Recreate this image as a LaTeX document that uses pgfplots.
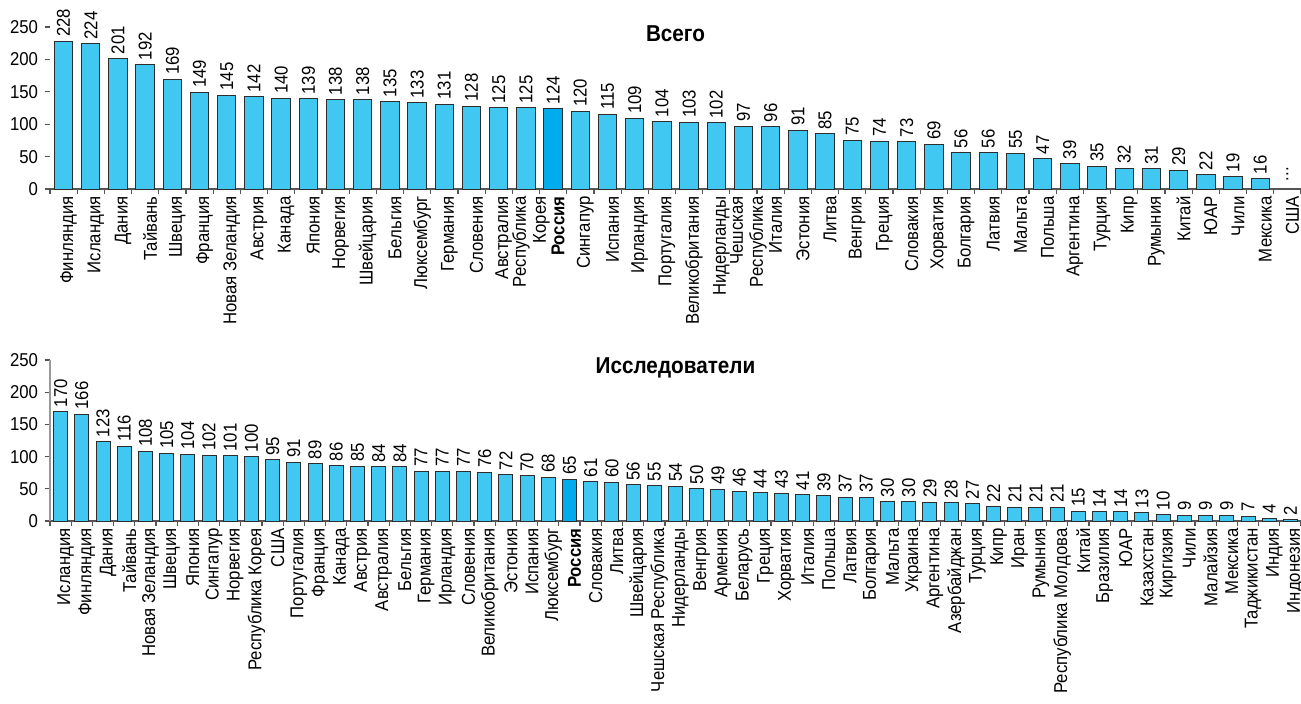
\documentclass[border=0pt]{standalone}
\usepackage{fontspec}
\setmainfont{Liberation Sans}[FakeStretch=0.9]
\usepackage{pgfplots}
\pgfplotsset{compat=1.18}
\usepackage{pgfplotstable}

\definecolor{barc}{RGB}{64,200,242}
\definecolor{rusc}{RGB}{0,172,236}
\definecolor{edgec}{RGB}{45,45,45}
\definecolor{axc}{RGB}{85,85,85}

\pgfplotstableread{
x y
0 228
1 224
2 201
3 192
4 169
5 149
6 145
7 142
8 140
9 139
10 138
11 138
12 135
13 133
14 131
15 128
16 125
17 125
18 124
19 120
20 115
21 109
22 104
23 103
24 102
25 97
26 96
27 91
28 85
29 75
30 74
31 73
32 69
33 56
34 56
35 55
36 47
37 39
38 35
39 32
40 31
41 29
42 22
43 19
44 16
}\totaltab

\pgfplotstableread{
x y
0 170
1 166
2 123
3 116
4 108
5 105
6 104
7 102
8 101
9 100
10 95
11 91
12 89
13 86
14 85
15 84
16 84
17 77
18 77
19 77
20 76
21 72
22 70
23 68
24 65
25 61
26 60
27 56
28 55
29 54
30 50
31 49
32 46
33 44
34 43
35 41
36 39
37 37
38 37
39 30
40 30
41 29
42 28
43 27
44 22
45 21
46 21
47 21
48 15
49 14
50 14
51 13
52 10
53 9
54 9
55 9
56 7
57 4
58 2
}\restab

\newcommand{\lf}{\fontsize{9.3}{10}\selectfont}

\pgfplotsset{
  every axis title shift=0pt,
  mybars/.style={
    scale only axis,
    width=625.5pt,
    ybar,
    ymin=0, ymax=250,
    xmin=-0.5,
    ytick={0,50,...,250},
    axis x line*=bottom,
    axis y line*=left,
    tick align=outside,
    major tick length=2.5pt,
    minor tick length=2.5pt,
    major x tick style={draw=none},
    minor x tick style={draw=axc, line width=0.6pt},
    major y tick style={draw=axc, line width=0.6pt},
    x axis line style={draw=axc, line width=0.6pt},
    tick label style={font=\lf},
    xticklabel style={rotate=90, anchor=east, align=right, font=\lf, inner sep=1pt, yshift=-2.5pt},
    yticklabel style={font=\lf},
    /pgf/number format/assume math mode=true,
    title style={anchor=center, yshift=0pt, font=\fontsize{11.5}{13}\selectfont\bfseries},
    clip=false,
  },
  labs/.style={
    nodes near coords,
    every node near coord/.append style={rotate=90, anchor=west, font=\lf, inner sep=2pt, text=black},
  },
}

\begin{document}
\begin{tikzpicture}
\path[use as bounding box] (0,0) rectangle (650.5pt,351.5pt);

% ---------- Top: Всего ----------
\begin{axis}[mybars,
  at={(25pt,257pt)}, anchor=south west,
  height=81pt,
  xmax=45.5,
  bar width=9.2pt,
  y axis line style={draw=none},
  xtick={0,...,45},
  minor xtick={-0.5,0.5,...,45.5},
  xticklabels={Финляндия, Исландия, Дания, Тайвань, Швеция, Франция, Новая Зеландия, Австрия, Канада, Япония, Норвегия, Швейцария, Бельгия, Люксембург, Германия, Словения, Австралия, {Республика\\Корея}, \textbf{Россия}, Сингапур, Испания, Ирландия, Португалия, Великобритания, Нидерланды, {Чешская\\Республика}, Италия, Эстония, Литва, Венгрия, Греция, Словакия, Хорватия, Болгария, Латвия, Мальта, Польша, Аргентина, Турция, Кипр, Румыния, Китай, ЮАР, Чили, Мексика, США},
  title={Всего},
  title style={at={(0.5,0.96)}},
]
\addplot[labs, fill=barc, draw=edgec, line width=0.5pt, bar shift=0pt] table[x=x,y=y] {\totaltab};
\addplot[fill=rusc, draw=edgec, line width=0.5pt, bar shift=0pt] coordinates {(18,124)};
\node[rotate=90, font=\lf] at (axis cs:45,23) {...};
\end{axis}

% ---------- Bottom: Исследователи ----------
\begin{axis}[mybars,
  at={(25pt,91pt)}, anchor=south west,
  height=80.5pt,
  xmax=58.5,
  bar width=7pt,
  y axis line style={draw=gray!80, line width=0.6pt},
  xtick={0,...,58},
  minor xtick={-0.5,0.5,...,58.5},
  xticklabels={Исландия, Финляндия, Дания, Тайвань, Новая Зеландия, Швеция, Япония, Сингапур, Норвегия, Республика Корея, США, Португалия, Франция, Канада, Австрия, Австралия, Бельгия, Германия, Ирландия, Словения, Великобритания, Эстония, Испания, Люксембург, \textbf{Россия}, Словакия, Литва, Швейцария, Чешская Республика, Нидерланды, Венгрия, Армения, Беларусь, Греция, Хорватия, Италия, Польша, Латвия, Болгария, Мальта, Украина, Аргентина, Азербайджан, Турция, Кипр, Иран, Румыния, Республика Молдова, Китай, Бразилия, ЮАР, Казахстан, Киргизия, Чили, Малайзия, Мексика, Таджикистан, Индия, Индонезия},
  title={Исследователи},
  title style={at={(0.5,0.95)}},
]
\addplot[labs, fill=barc, draw=edgec, line width=0.5pt, bar shift=0pt] table[x=x,y=y] {\restab};
\addplot[fill=rusc, draw=edgec, line width=0.5pt, bar shift=0pt] coordinates {(24,65)};
\end{axis}
\end{tikzpicture}
\end{document}
